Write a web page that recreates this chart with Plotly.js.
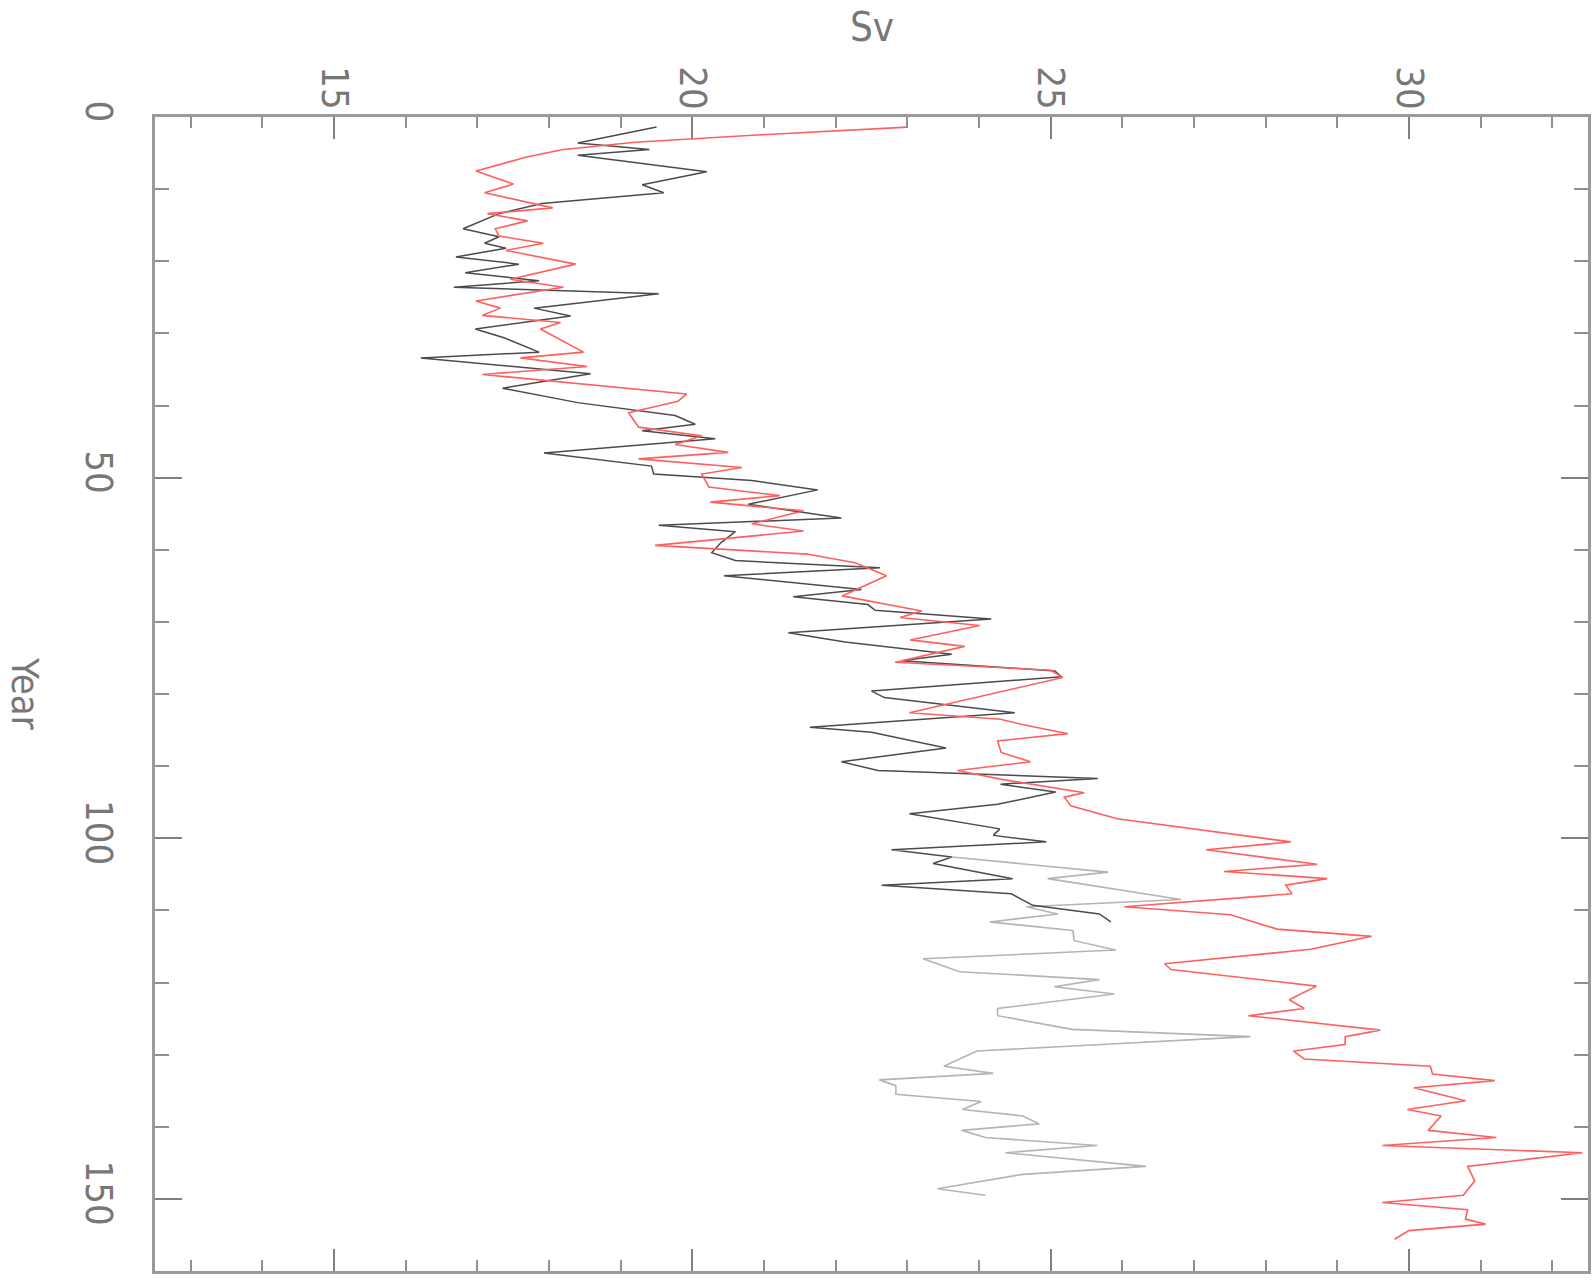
<!DOCTYPE html>
<html>
<head>
<meta charset="utf-8">
<script src="https://cdn.plot.ly/plotly-3.0.1.min.js"></script>
<style>
html,body{margin:0;padding:0;background:#fff;}
#chart{width:1594px;height:1285px;}
</style>
</head>
<body>
<div id="chart"></div>
<script>
// Red series (vertices): year, Sv
const redYear = [1.4,2.5,3.5,4.5,5.5,6.5,7.5,9.3,10.5,12.6,13.4,14.4,15.5,16.5,17.5,18.5,20.4,22.5,23.6,25.5,26.5,27.5,28.5,29.4,32.6,33.4,34.6,35.7,38.4,39.4,41.0,43.0,44.2,45.4,46.5,47.4,48.6,49.5,51.3,52.5,53.4,54.6,56.4,57.4,59.4,60.6,61.8,63.6,65.0,66.4,68.5,69.4,70.5,72.5,73.4,75.6,76.7,77.7,82.6,83.5,84.2,85.5,86.5,88.1,89.4,90.6,91.8,93.7,94.3,95.5,97.3,100.5,101.6,103.6,104.6,105.6,106.5,107.7,109.5,110.6,112.6,113.6,115.4,117.4,118.2,120.5,122.4,123.6,124.6,126.6,127.5,128.6,129.5,130.6,131.6,132.7,133.6,134.6,136.4,137.6,138.5,140.5,141.5,142.6,143.6,145.5,147.5,149.5,150.5,151.5,152.8,153.5,154.4,155.6];
const redSv   = [23.0,20.9,19.2,18.2,17.7,17.35,16.98,17.5,17.1,18.05,17.14,17.7,17.25,17.3,17.92,17.4,18.37,17.46,18.2,16.98,17.32,17.07,18.16,17.88,18.48,17.6,18.53,17.07,19.92,19.8,19.11,19.25,20.13,19.76,20.5,19.25,20.69,20.13,20.23,21.22,20.25,21.55,20.83,21.55,19.48,21.6,22.27,22.71,22.41,22.09,23.2,22.9,24.01,23.04,23.8,22.83,25.0,25.17,23.03,24.3,24.59,25.24,24.26,24.31,24.72,23.7,24.3,25.47,25.19,25.28,25.93,28.35,27.17,28.72,27.42,28.86,28.28,28.37,26.03,27.51,28.16,29.48,28.63,26.59,26.68,28.71,28.33,28.54,27.76,29.6,29.11,29.11,28.39,28.54,30.3,30.33,31.2,30.07,30.79,29.98,30.45,30.27,31.22,29.63,32.42,30.82,30.92,30.76,29.63,30.82,30.79,31.07,30.0,29.8];

// Black series
const blackYear = [1.4,3.6,4.5,5.3,7.6,9.4,10.5,12.0,13.4,15.5,16.6,17.5,18.2,19.4,20.4,21.6,22.7,23.6,24.5,26.5,27.6,29.4,30.6,32.6,33.4,35.6,37.6,39.6,41.4,42.6,43.5,44.6,46.6,48.4,49.5,50.4,51.7,53.7,55.6,56.6,57.5,59.0,60.4,61.5,62.5,63.6,65.5,66.5,67.6,68.4,69.6,71.5,72.8,74.5,75.4,76.8,77.6,79.6,80.5,82.6,84.6,85.3,87.5,89.4,90.6,91.7,92.5,93.6,95.3,96.6,98.7,99.6,100.5,101.6,102.6,103.5,105.6,106.5,107.7,109.3,110.5,111.6];
const blackSv   = [19.5,18.4,19.4,18.4,20.2,19.3,19.6,17.9,17.3,16.8,17.3,17.1,17.4,16.7,17.58,16.83,17.86,16.67,19.53,17.79,18.3,16.97,17.37,17.86,16.21,18.58,17.35,18.4,19.76,20.04,19.3,20.32,17.93,19.43,19.46,20.83,21.75,20.78,22.08,19.53,20.6,20.4,20.27,20.6,22.62,20.44,22.36,21.41,22.45,22.55,24.17,21.34,22.13,23.62,22.92,25.06,25.15,22.5,22.68,24.5,21.64,22.5,23.54,22.08,22.59,25.66,24.3,25.07,24.26,23.03,24.29,24.2,24.94,22.78,23.62,23.36,24.47,22.64,24.45,24.75,25.68,25.84];

// Grey series (branches off the black one)
const greyYear = [102.6,104.7,105.6,108.5,109.5,110.5,111.6,112.8,114.2,115.5,116.7,118.5,119.6,120.6,121.6,123.6,124.6,126.5,127.5,129.5,131.6,132.6,133.5,134.3,135.5,136.5,137.6,138.5,139.6,140.5,141.5,142.6,143.6,145.5,146.6,148.6,149.5];
const greySv   = [23.62,25.8,24.96,26.82,24.66,25.1,24.15,25.31,25.33,25.91,23.22,23.73,25.68,25.05,25.89,24.26,24.26,25.3,27.79,23.97,23.51,24.2,22.61,22.84,22.84,24.03,23.77,24.61,24.84,23.76,24.09,25.65,24.37,26.33,24.61,23.42,24.09];

// Axis labels
const svTitle = 'Sv';
const yearTitle = 'Year';

const fontFam = '"Liberation Sans Narrow", "DejaVu Sans Condensed", "Liberation Sans", sans-serif';
const tickFont = {family: fontFam, size: 38, color: '#777777'};

const traces = [
  {x: greySv, y: greyYear, mode: 'lines', line: {color: 'rgb(180,180,180)', width: 1.6}, hoverinfo: 'skip'},
  {x: blackSv, y: blackYear, mode: 'lines', line: {color: 'rgb(75,75,75)', width: 1.5}, hoverinfo: 'skip'},
  {x: redSv, y: redYear, mode: 'lines', line: {color: 'rgb(255,95,95)', width: 1.6}, hoverinfo: 'skip'}
];

const layout = {
  width: 1594, height: 1285,
  margin: {l: 155, r: 6, t: 117, b: 14},
  paper_bgcolor: '#fff', plot_bgcolor: '#fff',
  showlegend: false,
  xaxis: {
    range: [12.5, 32.5], side: 'top',
    tickmode: 'linear', tick0: 15, dtick: 5,
    ticks: 'inside', ticklen: 22, tickwidth: 2, tickcolor: '#808080',
    minor: {tickmode: 'linear', tick0: 13, dtick: 1, ticks: 'inside', ticklen: 11, tickwidth: 2, tickcolor: '#909090'},
    showline: true, linecolor: '#9a9a9a', linewidth: 3, mirror: 'allticks',
    showgrid: false, zeroline: false,
    tickangle: 90, tickfont: tickFont, ticklabelstandoff: -9
  },
  yaxis: {
    range: [160, 0],
    tickmode: 'linear', tick0: 0, dtick: 50,
    ticks: 'inside', ticklen: 27, tickwidth: 2, tickcolor: '#808080',
    minor: {tickmode: 'linear', tick0: 0, dtick: 10, ticks: 'inside', ticklen: 14, tickwidth: 2, tickcolor: '#909090'},
    showline: true, linecolor: '#9a9a9a', linewidth: 3, mirror: 'allticks',
    showgrid: false, zeroline: false,
    tickangle: 90, tickfont: tickFont, ticklabelstandoff: 20
  },
  annotations: [
    {text: svTitle, xref: 'paper', yref: 'paper', x: 0.5, y: 1 + (117 - 27) / 1154, xanchor: 'center', yanchor: 'middle', showarrow: false, font: {family: fontFam, size: 40, color: '#777777'}},
    {text: yearTitle, xref: 'paper', yref: 'paper', x: (25 - 155) / 1433, y: 0.5, xanchor: 'center', yanchor: 'middle', textangle: 90, showarrow: false, font: {family: fontFam, size: 38, color: '#777777'}}
  ]
};

Plotly.newPlot('chart', traces, layout, {staticPlot: true, displayModeBar: false});
</script>
</body>
</html>
